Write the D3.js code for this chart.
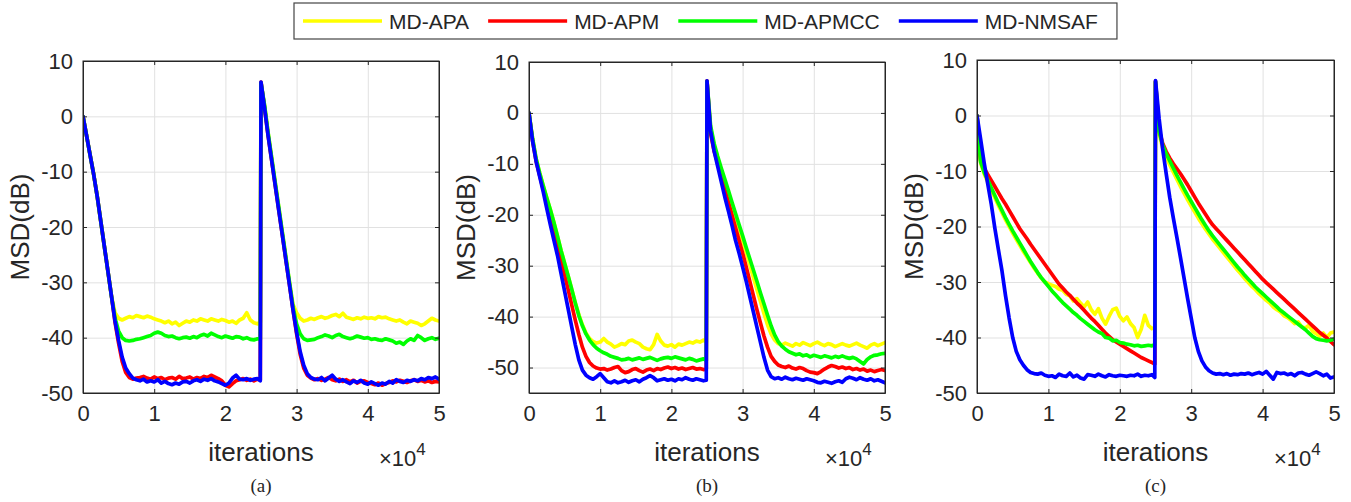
<!DOCTYPE html>
<html>
<head>
<meta charset="utf-8">
<script src="https://cdn.jsdelivr.net/npm/d3@7"></script>
<style>
  html, body { margin: 0; padding: 0; background: #fff; }
  svg { display: block; }
  text { font-family: "Liberation Sans", Arial, Helvetica, sans-serif; fill: #262626; }
</style>
</head>
<body>
<svg id="chart" width="1351" height="502"></svg>
<script>
// ---------------- DATA ----------------
const seriesNames = ["MD-APA", "MD-APM", "MD-APMCC", "MD-NMSAF"];
const seriesColors = ["#ffff00", "#ff0000", "#00ff00", "#0000ff"];
const panelLabels = ["(a)", "(b)", "(c)"];
const xTicks = [0, 10000, 20000, 30000, 40000, 50000];
const yTicks = [-50, -40, -30, -20, -10, 0, 10];
// sample grid (iterations): every 500, the last sample before the change, the change point
const ITER = [...d3.range(0, 25000, 500), 24900, 25000, ...d3.range(25500, 50001, 500)];

// ---- panel (a) ----
const A_APA = [
  0, -3.5, -7, -10.5, -14.5, -19, -23.5, -28, -32.5, -35.5,
  -36.5, -36.8, -36.5, -36.2, -36.4, -36, -36.2, -36.4, -36.1, -36.3,
  -36.6, -36.8, -37, -37.3, -37, -37.5, -37.2, -37.8, -37.4, -37,
  -37.2, -36.8, -37, -36.6, -36.8, -37, -36.6, -36.8, -37, -36.7,
  -36.9, -37.2, -37, -37.4, -36.8, -36.5, -35.5, -36.8, -37.3, -37.5,
  -37.2, 6,
  2, -3, -7.5, -12, -16.5, -21, -25.5, -30, -34, -35.5,
  -36.5, -37, -36.8, -36.5, -36.7, -36.4, -36.2, -36.5, -36.3, -36,
  -35.8, -36.2, -35.6, -36.3, -36.5, -36.7, -36.4, -36.6, -36.3, -36.5,
  -36.4, -36.6, -36.2, -36.4, -36.3, -36.6, -36.8, -37, -36.8, -37.2,
  -37.5, -37, -37.2, -37.4, -37.8, -37.5, -37, -36.5, -36.8, -37
];
const A_APM = [
  0, -3.5, -7, -10.5, -14.5, -19, -23.5, -28, -32.5, -37.2,
  -41, -44.3, -46.3, -47.2, -47.5, -47.3, -47.2, -47, -47.3, -47.5,
  -47.1, -47.4, -47.2, -47.6, -47.3, -47.2, -47.5, -47, -47.4, -47.3,
  -47.1, -47.5, -47.2, -47.4, -47, -47.2, -46.8, -47.1, -47.4, -47.8,
  -48.6, -48.9, -48.3, -47.8, -47.6, -47.4, -47.7, -47.5, -47.8, -47.5,
  -47.6, 6.2,
  1.5, -3.5, -8, -12.5, -17, -21.5, -26, -30.5, -35, -39.3,
  -43, -45.5, -46.8, -47.3, -47.6, -47.4, -47.7, -47.5, -47.2, -47.6,
  -47.8, -47.5, -47.9, -47.6, -48, -47.7, -48.2, -47.9, -47.8, -48.1,
  -48.3, -48.5, -48.2, -48.6, -48.3, -48.1, -47.8, -48, -47.7, -47.9,
  -48.1, -47.8, -47.6, -47.9, -47.7, -48, -47.8, -48.1, -47.9, -48
];
const A_APMCC = [
  0, -3.5, -7, -10.5, -14.5, -19, -23.5, -28, -32.5, -36.5,
  -38.8, -40, -40.5, -40.6, -40.5, -40.3, -40.2, -40, -39.8, -39.6,
  -39.2, -39, -39.2, -39.6, -39.8, -39.7, -40, -40.2, -40, -39.9,
  -40.1, -39.8, -40, -39.6, -39.4, -39.7, -39.2, -39.5, -39.8, -40,
  -39.7, -39.9, -40.1, -39.8, -39.9, -40.2, -40, -40.3, -40.4, -40.2,
  -40.3, 6,
  2, -3, -7.5, -12, -16.5, -21, -25.5, -30, -34.5, -37.5,
  -39.3, -40.2, -40.5, -40.4, -40.3, -40, -39.8, -39.5, -39.7, -40,
  -39.6, -39.4, -39.8, -40, -40.2, -40, -39.7, -39.9, -40.1, -40,
  -40.3, -40.2, -40.4, -40.5, -40.2, -40.4, -40.6, -41, -40.8, -41.2,
  -40.6, -40.2, -40.5, -39.6, -40, -40.5, -40.2, -40, -40.3, -40.1
];
const A_NMSAF = [
  0, -3.5, -7, -10.5, -14.5, -19, -23.5, -28, -32.5, -37,
  -40.5, -43.5, -45.5, -46.5, -47.3, -47.6, -47.8, -47.5, -48, -47.8,
  -48, -47.6, -48.2, -47.9, -48.3, -48.5, -48.2, -48.4, -48, -47.9,
  -48.2, -47.8, -47.6, -47.9, -47.5, -47.7, -47.4, -47.8, -48, -48.3,
  -48.6, -48.2, -47.3, -46.8, -47.5, -47.6, -47.4, -47.7, -47.5, -47.4,
  -47.8, 6.2,
  1.5, -3.5, -8, -12.5, -17, -21.5, -26, -30.5, -35, -39,
  -42.5, -45, -46.5, -47.2, -47.5, -47.6, -47.2, -47.8, -47.3, -46.8,
  -47.5, -47.9, -47.6, -48, -48.3, -47.8, -48.1, -47.7, -48.2, -48.4,
  -48, -48.3, -48.6, -48.2, -48.4, -47.9, -48.2, -47.6, -47.9, -48.1,
  -47.7, -47.9, -47.6, -47.8, -47.4, -47.6, -47.2, -47.4, -47.1, -47.5
];

// ---- panel (b) ----
const B_APA = [
  0, -5, -9, -11.8, -14.3, -16.7, -19, -21.5, -24.2, -27,
  -29.5, -32, -34.6, -37.3, -39.6, -41.6, -43.2, -44.3, -44.9, -45.2,
  -45, -44.3, -45, -45.4, -46, -45.7, -45.3, -45.5, -44.8, -44.6,
  -45, -45.3, -46, -46.3, -46.5, -45.5, -43.5, -44.8, -45.6, -45.8,
  -45.5, -46, -45.4, -45.6, -45.3, -45, -45.2, -44.8, -45, -44.6,
  -45, 6.2,
  -3, -6.5, -9, -11.3, -13.6, -15.8, -18, -20.3, -22.6, -25,
  -27.4, -29.8, -32.2, -34.6, -37, -39.4, -41.6, -43.4, -44.6, -45.3,
  -45.6, -45.2, -45.5, -45.8, -45.3, -45.6, -45.1, -45.4, -45.7, -45.3,
  -45, -45.4, -45.7, -45.3, -45.5, -45.9, -45.6, -45.3, -45.6, -45.8,
  -45.5, -45.2, -45.6, -45.9, -46.2, -45.6, -45.3, -45.7, -45.4, -45.1
];
const B_APM = [
  0, -5.5, -9.5, -12.3, -15, -17.8, -20.6, -23.4, -26.2, -29,
  -31.8, -34.7, -37.7, -40.7, -43.5, -46, -47.8, -49, -49.7, -50.1,
  -50.3, -50.2, -50.5, -50.3, -50, -49.8, -50.6, -51, -50.8, -50.4,
  -50.2, -50.6, -50.9, -50.5, -50.3, -50.6, -50.2, -50.4, -50.1, -49.9,
  -50.2, -50, -50.3, -50.1, -50.4, -50.2, -50, -50.3, -50.2, -50.4,
  -50.3, 6.3,
  -4, -7.5, -9.8, -12.5, -15, -17.5, -20, -22.5, -25, -27.5,
  -30.2, -33, -35.8, -38.6, -41.2, -43.8, -46, -47.8, -48.8, -49.5,
  -49.8, -50, -49.7, -50.1, -50.3, -50, -50.2, -50.6, -50.9, -51,
  -51.2, -50.8, -50.3, -49.9, -49.6, -49.8, -50.1, -49.9, -50.2, -50,
  -50.4, -50.2, -50.5, -50.3, -50.7, -50.5, -50.8, -50.6, -50.4, -50.6
];
const B_APMCC = [
  0, -5, -9, -11.8, -14.3, -16.7, -19, -21.5, -24.2, -27,
  -29.5, -32, -34.6, -37.3, -39.8, -41.8, -43.4, -44.6, -45.5, -46.2,
  -46.7, -47.1, -47.4, -47.8, -48, -48.2, -48.5, -48.4, -48.2, -48.5,
  -48.3, -48.1, -48.4, -48.2, -48, -48.3, -48.6, -48.3, -48.1, -48,
  -48.2, -47.9, -48.1, -48.3, -48.5, -48.2, -48.4, -48.7, -48.5, -48.3,
  -48.6, 6.2,
  -2.5, -6, -8.5, -10.8, -13, -15.2, -17.5, -19.7, -21.9, -24.1,
  -26.4, -28.6, -30.8, -33, -35.3, -37.5, -39.7, -41.8, -43.6, -44.9,
  -45.8, -46.4, -46.9, -47.2, -47.5, -47.3, -47.7, -47.5, -47.9, -47.6,
  -47.8, -48, -47.7, -47.9, -48.1, -47.8, -48, -47.7, -48, -48.2,
  -48, -48.3, -48.8, -49.3, -48.4, -47.9, -47.6, -47.5, -47.3, -47.2
];
const B_NMSAF = [
  0, -5.5, -9.5, -12.5, -15.5, -18.8, -22, -25, -28, -31.5,
  -35, -38.5, -42, -45.5, -48.5, -50.5, -51.5, -52, -52.3, -51.8,
  -51.2, -52, -52.8, -53, -52.6, -53, -52.8, -52.5, -52.9, -52.6,
  -52.4, -52.8, -52.3, -52, -51.6, -52, -52.6, -52.4, -52.2, -52.5,
  -52.3, -52.6, -52.2, -52.4, -52, -52.3, -52.5, -52.2, -52.4, -52.6,
  -52.5, 6.3,
  -3.5, -7.5, -10.5, -13.5, -16.5, -19.2, -22, -25, -27.5, -30.2,
  -33, -36, -39, -42, -45, -48, -50.5, -51.8, -52.2, -52,
  -52.3, -51.9, -52.2, -52.4, -52.1, -52.3, -52.5, -52.2, -52.4, -52.6,
  -52.9, -53, -52.7, -52.9, -53.1, -52.8, -52.6, -52.9, -52.2, -51.9,
  -52.1, -52.4, -52, -52.3, -52.5, -52.2, -52.6, -52.4, -52.7, -53
];

// ---- panel (c) ----
const C_APA = [
  0, -8.5, -10.5, -12, -13.4, -14.8, -16.2, -17.5, -18.8, -20,
  -21.2, -22.3, -23.4, -24.5, -25.5, -26.5, -27.5, -28.4, -29.3, -30,
  -30.3, -30.6, -30.8, -31.3, -31.5, -32.2, -32.5, -33.4, -33, -33.8,
  -34.5, -33.6, -35, -35.8, -34.8, -36.5, -37.6, -36.2, -35, -34.7,
  -36.2, -37, -36.3, -37.5, -38.2, -40, -38.5, -36, -37.8, -38.4,
  -38.2, 6,
  -3.2, -5.8, -7.5, -8.9, -10.2, -11.5, -12.8, -14, -15.2, -16.3,
  -17.4, -18.5, -19.5, -20.5, -21.4, -22.3, -23.1, -23.9, -24.7, -25.5,
  -26.3, -27.1, -27.9, -28.6, -29.4, -30.1, -30.8, -31.4, -32.1, -32.7,
  -33.3, -33.8, -34.5, -35, -35.4, -36.1, -36.4, -36.9, -37.5, -37.2,
  -38.1, -38.3, -37.8, -38.9, -39.3, -39.8, -39.2, -40, -39.2, -39
];
const C_APM = [
  0, -8, -9.5, -10.6, -11.7, -12.8, -13.9, -15, -16, -17.1,
  -18.2, -19.3, -20.4, -21.3, -22.2, -23.2, -24.1, -25, -25.9, -26.8,
  -27.7, -28.6, -29.5, -30.4, -31.1, -31.8, -32.4, -33.1, -33.8, -34.4,
  -35.1, -35.8, -36.5, -37.1, -37.8, -38.5, -39.2, -39.8, -40.4, -40.8,
  -41.2, -41.6, -42, -42.4, -42.8, -43.2, -43.6, -43.9, -44.2, -44.5,
  -44.8, 6.2,
  -2.5, -5, -6.5, -7.7, -8.7, -9.6, -10.5, -11.5, -12.5, -13.6,
  -14.7, -15.8, -16.8, -17.8, -18.8, -19.7, -20.4, -21.1, -21.8, -22.5,
  -23.2, -23.9, -24.6, -25.3, -26, -26.7, -27.4, -28.1, -28.8, -29.5,
  -30.1, -30.7, -31.3, -31.9, -32.5, -33.1, -33.7, -34.3, -34.9, -35.5,
  -36.1, -36.7, -37.3, -37.9, -38.5, -39.1, -39.6, -40.1, -40.7, -41.3
];
const C_APMCC = [
  0, -8.3, -10.2, -11.6, -13, -14.4, -15.8, -17.1, -18.4, -19.6,
  -20.8, -21.9, -23, -24.1, -25.2, -26.3, -27.3, -28.3, -29.2, -30,
  -30.8, -31.6, -32.3, -33, -33.7, -34.3, -34.9, -35.5, -36, -36.6,
  -37.1, -37.6, -38.1, -38.6, -39, -39.3, -40, -40.1, -40.6, -40.5,
  -40.9, -41, -41.2, -41.3, -41.5, -41.4, -41.6, -41.5, -41.4, -41.5,
  -41.3, 6.1,
  -2.8, -5.3, -6.9, -8.2, -9.5, -10.8, -12, -13.2, -14.4, -15.5,
  -16.6, -17.7, -18.8, -19.8, -20.8, -21.7, -22.5, -23.3, -24.1, -24.9,
  -25.7, -26.5, -27.3, -28, -28.8, -29.5, -30.2, -30.9, -31.5, -32.1,
  -32.7, -33.3, -33.9, -34.5, -35.1, -35.6, -36.1, -36.6, -37.1, -37.6,
  -38.1, -38.6, -39.2, -39.8, -40.2, -40.4, -40.5, -40.6, -40.5, -40.3
];
const C_NMSAF = [
  0, -4.2, -8.5, -12.3, -16, -20.3, -24.2, -28, -32.5, -36.5,
  -40, -42.5, -44, -45, -45.8, -46.3, -46.5, -46.6, -46.4, -46.8,
  -47, -46.9, -47.2, -46.6, -46.9, -47, -46.4, -47.1, -46.8, -47.3,
  -47.5, -46.7, -46.8, -47, -46.6, -46.9, -47.1, -46.7, -46.9, -47,
  -46.8, -46.9, -47, -46.8, -46.9, -46.6, -47, -46.8, -46.9, -46.7,
  -47.2, 6.3,
  -0.5, -6, -10.5, -14.8, -18.5, -22, -25.6, -29.3, -33, -36.5,
  -40, -42.5, -44.2, -45.3, -46, -46.4, -46.6, -46.5, -46.7, -46.5,
  -46.8, -46.6, -46.7, -46.5, -46.6, -46.4, -46.7, -46.5, -46.3, -46.6,
  -46.1, -46.8, -47.5, -46.3, -46.5, -46.4, -46.7, -46.5, -46.9, -46.4,
  -46.3, -46.6, -46.8, -46.5, -46.2, -46.5, -46.9, -46.6, -47.3, -47.1
];

// ---------------- LAYOUT ----------------
const panels = [
  { label: panelLabels[0], left: 83,  right: 439,  top: 61, bottom: 393, yMin: -50, yMax: 10, data: [A_APA, A_APM, A_APMCC, A_NMSAF] },
  { label: panelLabels[1], left: 529, right: 885,  top: 62, bottom: 393, yMin: -55, yMax: 10, data: [B_APA, B_APM, B_APMCC, B_NMSAF] },
  { label: panelLabels[2], left: 977, right: 1334, top: 60, bottom: 393, yMin: -50, yMax: 10, data: [C_APA, C_APM, C_APMCC, C_NMSAF] }
];

const svg = d3.select("#chart");
svg.append("rect").attr("width", 1351).attr("height", 502).attr("fill", "#fff");

const AX = "#262626", GRID = "#e1e1e1", TICKLEN = 4;
const FONT = '"Liberation Sans", Arial, sans-serif';

panels.forEach((p, pi) => {
  p.data.forEach((arr, si) => {
    if (arr.length !== ITER.length) console.error("length mismatch panel", pi, "series", si, arr.length, ITER.length);
  });
  const x = d3.scaleLinear().domain([0, 50000]).range([p.left, p.right]);
  const y = d3.scaleLinear().domain([p.yMin, p.yMax]).range([p.bottom, p.top]);
  const g = svg.append("g");
  const W = p.right - p.left, H = p.bottom - p.top;

  // grid
  g.append("g").attr("transform", `translate(0,${p.bottom})`)
    .call(d3.axisBottom(x).tickValues(xTicks).tickSize(-H).tickFormat(""))
    .call(s => s.select(".domain").remove())
    .call(s => s.selectAll("line").attr("stroke", GRID).attr("stroke-width", 1));
  g.append("g").attr("transform", `translate(${p.left},0)`)
    .call(d3.axisLeft(y).tickValues(yTicks).tickSize(-W).tickFormat(""))
    .call(s => s.select(".domain").remove())
    .call(s => s.selectAll("line").attr("stroke", GRID).attr("stroke-width", 1));

  // clip
  const cid = "clip" + pi;
  svg.append("clipPath").attr("id", cid).append("rect")
    .attr("x", p.left).attr("y", p.top).attr("width", W).attr("height", H);

  const line = d3.line().x((d, i) => x(ITER[i])).y(d => y(d));
  const lg = g.append("g").attr("clip-path", `url(#${cid})`);
  p.data.forEach((arr, si) => {
    lg.append("path").datum(arr)
      .attr("d", line)
      .attr("fill", "none")
      .attr("stroke", seriesColors[si])
      .attr("stroke-width", 3.7)
      .attr("stroke-linejoin", "round")
      .attr("stroke-linecap", "round");
  });

  // axes (ticks inward on all four sides)
  const fs = "22px";
  const bottomAx = g.append("g").attr("transform", `translate(0,${p.bottom})`)
    .call(d3.axisBottom(x).tickValues(xTicks).tickSizeInner(-TICKLEN).tickSizeOuter(0).tickPadding(12)
      .tickFormat(d => String(d / 10000)));
  bottomAx.selectAll("text").attr("font-size", fs).attr("fill", AX).attr("dy", "0.71em").attr("y", 12)
    .style("font-family", FONT);
  const leftAx = g.append("g").attr("transform", `translate(${p.left},0)`)
    .call(d3.axisLeft(y).tickValues(yTicks).tickSizeInner(-TICKLEN).tickSizeOuter(0).tickPadding(10)
      .tickFormat(d => String(d)));
  leftAx.selectAll("text").attr("font-size", fs).attr("fill", AX).style("font-family", FONT);
  g.append("g").attr("transform", `translate(0,${p.top})`)
    .call(d3.axisTop(x).tickValues(xTicks).tickSizeInner(-TICKLEN).tickSizeOuter(0).tickFormat(""));
  g.append("g").attr("transform", `translate(${p.right},0)`)
    .call(d3.axisRight(y).tickValues(yTicks).tickSizeInner(-TICKLEN).tickSizeOuter(0).tickFormat(""));
  g.selectAll(".domain").attr("stroke", AX);
  g.selectAll(".tick line").filter(function () { return this.getAttribute("stroke") !== GRID; })
    .attr("stroke", AX);
  g.append("rect").attr("x", p.left).attr("y", p.top).attr("width", W).attr("height", H)
    .attr("fill", "none").attr("stroke", AX).attr("stroke-width", 1);

  // labels
  const cx = (p.left + p.right) / 2;
  g.append("text").attr("x", cx).attr("y", 461).attr("text-anchor", "middle")
    .attr("font-size", "26px").text("iterations");
  g.append("text")
    .attr("transform", `translate(${p.left - 54},${(p.top + p.bottom) / 2}) rotate(-90)`)
    .attr("text-anchor", "middle").attr("font-size", "26px").text("MSD(dB)");
  const ex = g.append("text").attr("x", p.right - 60).attr("y", 466).attr("font-size", "22px");
  ex.append("tspan").text("\u00d710");
  ex.append("tspan").attr("dy", -11).attr("font-size", "17px").text("4");
  g.append("text").attr("x", cx).attr("y", 492).attr("text-anchor", "middle")
    .style("font-family", '"Liberation Serif", "Times New Roman", serif')
    .attr("font-size", "19px").attr("fill", "#000").text(p.label);
});

// ---------------- LEGEND ----------------
const leg = svg.append("g");
const legBox = leg.append("rect").attr("x", 294).attr("y", 3).attr("height", 36)
  .attr("fill", "#fff").attr("stroke", "#444").attr("stroke-width", 1.2);
let cur = 303;
seriesNames.forEach((name, i) => {
  leg.append("line").attr("x1", cur).attr("x2", cur + 79).attr("y1", 21).attr("y2", 21)
    .attr("stroke", seriesColors[i]).attr("stroke-width", 3.4);
  const t = leg.append("text").attr("x", cur + 86).attr("y", 28.5).attr("font-size", "21px")
    .attr("fill", "#000").text(name);
  const w = t.node().getComputedTextLength();
  cur = cur + 86 + w + 19;
});
legBox.attr("width", cur - 294);
</script>
</body>
</html>
